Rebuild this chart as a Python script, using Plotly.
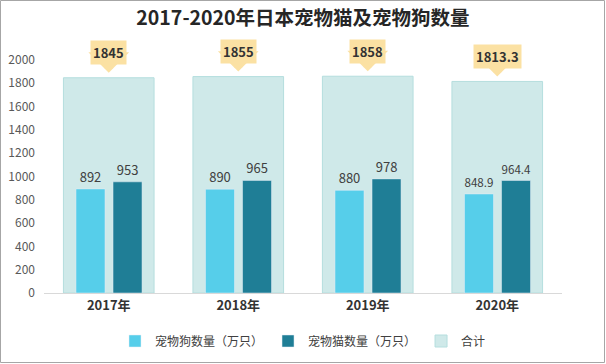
import plotly.graph_objects as go

years = ["2017年", "2018年", "2019年", "2020年"]
dogs = [892, 890, 880, 848.9]
cats = [953, 965, 978, 964.4]
totals = [1845, 1855, 1858, 1813.3]
dog_labels = ["892", "890", "880", "848.9"]
cat_labels = ["953", "965", "978", "964.4"]
total_labels = ["1845", "1855", "1858", "1813.3"]
y_ticks = [0, 200, 400, 600, 800, 1000, 1200, 1400, 1600, 1800, 2000]

W, H = 606, 364
ML, MR, MT, MB = 44, 44, 48, 71

fig = go.Figure()
fig.add_trace(go.Bar(
    x=years, y=totals, name="合计", width=0.70, offset=-0.35, legendrank=3,
    marker=dict(color="#CFE9E9", line=dict(color="#B5DEDE", width=1)),
    hoverinfo="skip",
))
fig.add_trace(go.Bar(
    x=years, y=dogs, name="宠物狗数量（万只）", width=0.224, offset=-0.253, legendrank=1,
    marker=dict(color="#56CEEA"), text=dog_labels, textposition="outside",
    textfont=dict(size=13, color="#404040"), cliponaxis=False, hoverinfo="skip",
))
fig.add_trace(go.Bar(
    x=years, y=cats, name="宠物猫数量（万只）", width=0.224, offset=0.033, legendrank=2,
    marker=dict(color="#1F7E96"), text=cat_labels, textposition="outside",
    textfont=dict(size=13, color="#404040"), cliponaxis=False, hoverinfo="skip",
))

for yr, tv, tl in zip(years, totals, total_labels):
    fig.add_annotation(
        x=yr, y=tv, text="", showarrow=True,
        ax=0, ay=-24, arrowhead=1, arrowsize=0.85, arrowwidth=8,
        arrowcolor="#FBE1A3", standoff=5,
    )
    fig.add_annotation(
        x=yr, y=tv, text="<b>" + tl + "</b>", showarrow=False,
        yshift=25, yanchor="middle", bgcolor="#FBE1A3",
        borderpad=2, font=dict(size=13, color="#333333"),
    )

pw = W - ML - MR
ph = H - MT - MB
fig.add_shape(
    type="rect", xref="paper", yref="paper",
    x0=-(ML - 0.5) / pw, x1=1 + (MR - 1.5) / pw,
    y0=-(MB - 1.5) / ph, y1=1 + (MT - 0.5) / ph,
    line=dict(color="#A6A6A6", width=1), fillcolor="rgba(0,0,0,0)", layer="below",
)

fig.update_layout(
    width=W, height=H, margin=dict(l=ML, r=MR, t=MT, b=MB, autoexpand=False),
    paper_bgcolor="white", plot_bgcolor="white",
    barmode="overlay",
    font=dict(family="Noto Sans CJK SC, Noto Sans, sans-serif", color="#404040"),
    title=dict(text="<b>2017-2020年日本宠物猫及宠物狗数量</b>", x=0.5, xanchor="center",
               y=1 - 18 / H, yanchor="middle", font=dict(size=19.5, color="#262626")),
    xaxis=dict(showgrid=False, showline=True, linecolor="#D9D9D9", linewidth=1,
               ticks="", tickfont=dict(size=13, color="#333333", weight="bold"),
               fixedrange=True),
    yaxis=dict(range=[0, 2100], tickvals=y_ticks, showgrid=False, showline=False,
               zeroline=False, tickfont=dict(size=12, color="#595959"), ticks="",
               ticklabelstandoff=8, fixedrange=True),
    legend=dict(orientation="h", x=0.5, xanchor="center", y=-(341 - MT - ph) / ph,
                yanchor="middle",
                font=dict(size=12, color="#404040"), itemwidth=30),
    showlegend=True,
)
fig.write_html("out.html", config={"displayModeBar": False},
               post_script="document.body.style.margin='0';document.body.style.overflow='hidden';")
